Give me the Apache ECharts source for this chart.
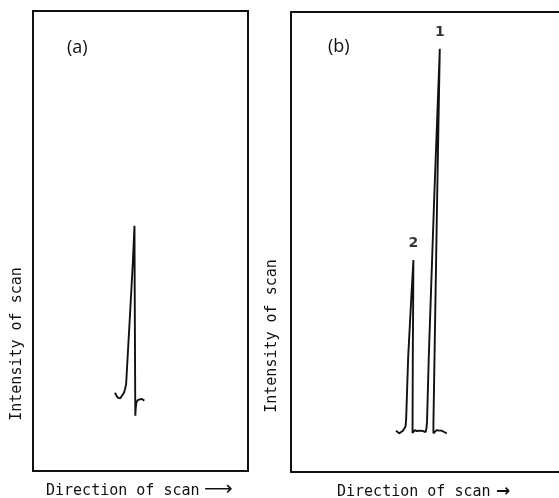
<!DOCTYPE html>
<html>
<head>
<meta charset="utf-8">
<script src="https://cdn.jsdelivr.net/npm/echarts@6/dist/echarts.min.js"></script>
<style>
html,body{margin:0;padding:0;background:#fff;}
#c{width:559px;height:498px;}
</style>
</head>
<body>
<div id="c"></div>
<script>
// Panel (a): scan trace, [position, intensity] (arbitrary units, 0-100)
const traceA = [
  [38.1,17.0],[38.8,16.4],[39.6,15.9],[40.6,15.8],[41.5,16.2],[42.3,17.0],[42.9,18.0],[43.3,18.8],
  [45.0,33.0],[46.4,45.0],[47.2,53.3],
  [47.3,40.0],[47.5,20.0],[47.6,12.0],[47.8,13.8],[48.1,14.9],[48.7,15.4],[49.5,15.6],[50.4,15.7],[51.8,15.3]
];
// Panel (b): scan trace with two peaks
const traceB = [
  [36.2,9.0],[36.7,8.6],[37.3,8.4],[37.9,8.6],[38.5,8.9],[39.1,9.2],[39.5,9.9],[39.7,11.5],
  [40.4,25.0],[41.4,37.0],[42.2,46.1],
  [42.1,35.0],[42.0,25.9],[41.9,8.5],[42.2,8.9],[42.7,9.1],[43.4,8.9],[43.9,8.8],[44.4,9.0],[44.9,9.1],[45.5,8.9],[46.0,8.5],[46.4,8.7],[46.7,9.5],[46.9,11.0],
  [47.5,25.0],[49.4,60.0],[51.3,92.0],
  [50.4,60.0],[49.5,25.9],[49.1,10.2],[49.1,8.4],[49.6,8.8],[50.2,9.1],[51.0,9.0],[51.9,9.0],[52.8,8.7],[53.7,8.4]
];
// Peak apexes in panel (b) and their labels
const peakPoints = [[51.3,92.0],[42.2,46.1]];
const peakLabels = ['1', '2'];
const panelLabels = ['(a)', '(b)'];
const xTitle = 'Direction of scan';
const yTitle = 'Intensity of scan';

const chart = echarts.init(document.getElementById('c'), null, {renderer: 'canvas'});

const lineCol = '#111';
const axisLineOnly = {show: true, axisLine: {show: true, onZero: false, lineStyle: {color: lineCol, width: 2}},
  axisTick: {show: false}, axisLabel: {show: false}, splitLine: {show: false}};
const monoStyle = {fontFamily: 'DejaVu Sans Mono', fontSize: 15, fill: '#111'};

chart.setOption({
  animation: false,
  backgroundColor: '#fff',
  grid: [
    {left: 33, top: 11, width: 215, height: 460, show: true, borderColor: lineCol, borderWidth: 2, containLabel: false},
    {left: 291, top: 12, width: 268, height: 460, show: false, containLabel: false}
  ],
  xAxis: [
    {type: 'value', gridIndex: 0, min: 0, max: 100, show: false},
    Object.assign({type: 'value', gridIndex: 1, min: 0, max: 92.4, position: 'bottom'}, axisLineOnly),
    Object.assign({type: 'value', gridIndex: 1, min: 0, max: 92.4, position: 'top'}, axisLineOnly)
  ],
  yAxis: [
    {type: 'value', gridIndex: 0, min: 0, max: 100, show: false},
    Object.assign({type: 'value', gridIndex: 1, min: 0, max: 100, position: 'left'}, axisLineOnly)
  ],
  series: [
    {type: 'line', xAxisIndex: 0, yAxisIndex: 0, data: traceA, symbol: 'none',
      lineStyle: {color: lineCol, width: 1.9}, silent: true},
    {type: 'line', xAxisIndex: 1, yAxisIndex: 1, data: traceB, symbol: 'none',
      lineStyle: {color: lineCol, width: 1.9}, silent: true},
    {type: 'scatter', xAxisIndex: 1, yAxisIndex: 1, symbolSize: 1,
      itemStyle: {color: 'rgba(0,0,0,0)'}, silent: true,
      data: peakPoints.map((p, i) => ({value: p, name: peakLabels[i]})),
      label: {show: true, position: 'top', distance: 9, formatter: '{b}',
        fontFamily: 'DejaVu Sans', fontSize: 14, fontWeight: 'bold', color: '#000'},
      labelLayout: {hideOverlap: false}}
  ],
  graphic: [
    {type: 'text', left: 67, top: 39, style: {text: panelLabels[0], fontFamily: 'Open Sans', fontSize: 18, fill: '#111'}},
    {type: 'text', left: 328, top: 38, style: {text: panelLabels[1], fontFamily: 'Open Sans', fontSize: 18, fill: '#111'}},
    {type: 'text', x: 46, y: 491, style: Object.assign({text: xTitle, textVerticalAlign: 'middle'}, monoStyle)},
    {type: 'text', x: 204, y: 490, style: {text: '\u27F6', textVerticalAlign: 'middle', fontFamily: 'DejaVu Sans', fontSize: 20, fill: '#111'}},
    {type: 'text', x: 337, y: 492, style: Object.assign({text: xTitle, textVerticalAlign: 'middle'}, monoStyle)},
    {type: 'text', x: 496, y: 492, style: {text: '\u2192', textVerticalAlign: 'middle', fontFamily: 'DejaVu Sans', fontWeight: 'bold', fontSize: 17, fill: '#111'}},
    {type: 'text', x: 17, y: 344, rotation: Math.PI / 2,
      style: Object.assign({text: yTitle, textAlign: 'center', textVerticalAlign: 'middle'}, monoStyle)},
    {type: 'text', x: 272, y: 336, rotation: Math.PI / 2,
      style: Object.assign({text: yTitle, textAlign: 'center', textVerticalAlign: 'middle'}, monoStyle)}
  ]
});
</script>
</body>
</html>
